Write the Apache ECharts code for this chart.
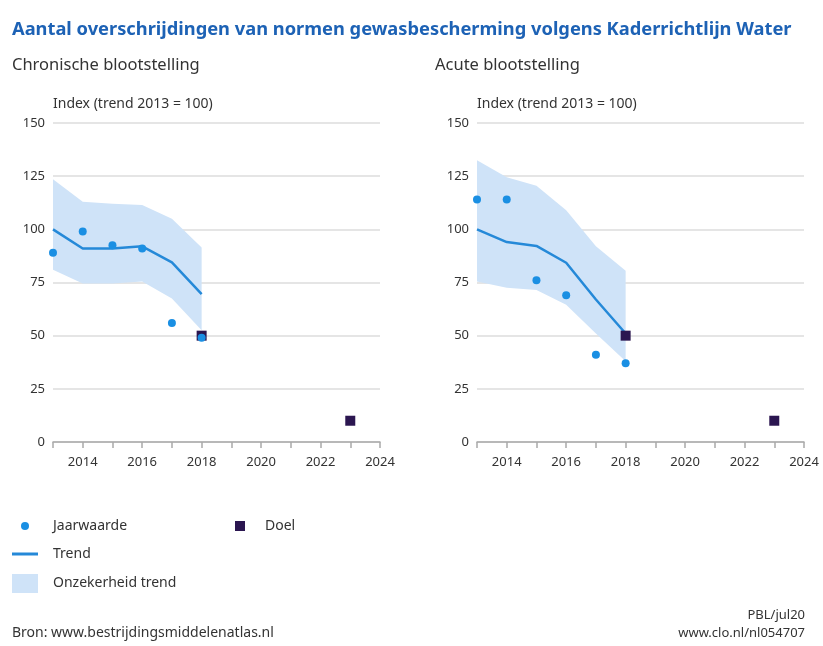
<!DOCTYPE html>
<html>
<head>
<meta charset="utf-8">
<script src="https://cdn.jsdelivr.net/npm/echarts@6/dist/echarts.min.js"></script>
<style>
  html, body { margin: 0; padding: 0; background: #fff; }
  #chart { width: 823px; height: 646px; }
</style>
</head>
<body>
<div id="chart"></div>
<script>
// jaren
var years = [2013, 2014, 2015, 2016, 2017, 2018];
var doelYears = [2018, 2023];

// chronische blootstelling
var chronTrend = [100, 91, 91, 92, 84.5, 69.5];
var chronUpper = [123.5, 113, 112, 111.5, 105, 91.5];
var chronLower = [81, 74.5, 74.5, 75.5, 67.5, 52.5];
var chronJaar = [89, 99, 92.5, 91, 56, 49];
var chronDoel = [50, 10];

// acute blootstelling
var acuteTrend = [100, 94, 92.2, 84.3, 67, 51];
var acuteUpper = [132.5, 124.5, 120.5, 109, 92, 80.5];
var acuteLower = [75.5, 72.5, 71.5, 64.5, 51, 38];
var acuteJaar = [114, 114, 76, 69, 41, 37];
var acuteDoel = [50, 10];

var blue = "#1a8fe3";
var lineBlue = "#2589d8";
var bandColor = "#cfe3f8";
var doelColor = "#2b1650";
var font = "Noto Sans";

function pairs(xs, ys) {
  return xs.map(function (x, i) { return [x, ys[i]]; });
}

// onzekerheidsband als polygoon tussen onder- en bovengrens
function bandSeries(idx, upper, lower) {
  return {
    name: "Onzekerheid trend",
    type: "custom",
    xAxisIndex: idx,
    yAxisIndex: idx,
    itemStyle: { color: bandColor },
    data: pairs(years, upper),
    z: 1,
    renderItem: function (params, api) {
      if (params.dataIndex !== 0) return;
      var pts = [];
      for (var i = 0; i < years.length; i++) pts.push(api.coord([years[i], upper[i]]));
      for (var j = years.length - 1; j >= 0; j--) pts.push(api.coord([years[j], lower[j]]));
      return {
        type: "polygon",
        shape: { points: pts },
        style: { fill: bandColor },
      };
    },
  };
}

function xAxis(idx) {
  return {
    gridIndex: idx,
    type: "value",
    min: 2013,
    max: 2024,
    interval: 1,
    axisLine: { lineStyle: { color: "#a9a9a9", width: 1.5 } },
    axisTick: { show: true, length: 6, lineStyle: { color: "#a9a9a9", width: 1.5 } },
    splitLine: { show: false },
    axisLabel: {
      margin: 14,
      fontFamily: font,
      fontSize: 13,
      color: "#333",
      formatter: function (v) { return v % 2 === 0 ? String(v) : ""; },
    },
  };
}

function yAxis(idx) {
  return {
    gridIndex: idx,
    type: "value",
    min: 0,
    max: 150,
    interval: 25,
    name: "Index (trend 2013 = 100)",
    nameLocation: "end",
    nameGap: 12,
    nameTextStyle: { fontFamily: font, fontSize: 14, color: "#333", align: "left" },
    axisLine: { show: false },
    axisTick: { show: false },
    splitLine: { lineStyle: { color: "#dcdcdc", width: 1.5 } },
    axisLabel: { margin: 8, fontFamily: font, fontSize: 13, color: "#333" },
  };
}

function chartSeries(idx, trend, upper, lower, jaar, doel) {
  return [
    bandSeries(idx, upper, lower),
    {
      name: "Trend",
      type: "line",
      xAxisIndex: idx,
      yAxisIndex: idx,
      data: pairs(years, trend),
      symbol: "none",
      lineStyle: { color: lineBlue, width: 2.5 },
      itemStyle: { color: lineBlue },
      z: 3,
    },
    {
      name: "Jaarwaarde",
      type: "scatter",
      xAxisIndex: idx,
      yAxisIndex: idx,
      data: pairs(years, jaar),
      symbol: "circle",
      symbolSize: 8,
      itemStyle: { color: blue, opacity: 1 },
      z: 5,
    },
    {
      name: "Doel",
      type: "scatter",
      xAxisIndex: idx,
      yAxisIndex: idx,
      data: pairs(doelYears, doel),
      symbol: "rect",
      symbolSize: 10,
      itemStyle: { color: doelColor, opacity: 1 },
      z: 4,
    },
  ];
}

var legendText = { fontFamily: font, fontSize: 14, color: "#333" };

var option = {
  animation: false,
  backgroundColor: "#fff",
  title: [
    {
      text: "Aantal overschrijdingen van normen gewasbescherming volgens Kaderrichtlijn Water",
      left: 7,
      top: 16,
      textStyle: { fontFamily: font, fontSize: 18.3, fontWeight: "bold", color: "#1d62b5" },
    },
    {
      text: "Chronische blootstelling",
      left: 7,
      top: 52,
      textStyle: { fontFamily: font, fontSize: 16.5, fontWeight: "normal", color: "#333" },
    },
    {
      text: "Acute blootstelling",
      left: 430,
      top: 52,
      textStyle: { fontFamily: font, fontSize: 16.5, fontWeight: "normal", color: "#333" },
    },
    {
      text: "Bron: www.bestrijdingsmiddelenatlas.nl",
      left: 7,
      top: 621,
      textStyle: { fontFamily: font, fontSize: 14, fontWeight: "normal", color: "#333" },
    },
    {
      text: "PBL/jul20",
      right: 13,
      top: 604,
      textStyle: { fontFamily: font, fontSize: 13, fontWeight: "normal", color: "#333" },
    },
    {
      text: "www.clo.nl/nl054707",
      right: 13,
      top: 622,
      textStyle: { fontFamily: font, fontSize: 13, fontWeight: "normal", color: "#333" },
    },
  ],
  legend: [
    {
      data: ["Jaarwaarde"],
      left: 21,
      top: 519,
      icon: "circle",
      itemWidth: 8,
      itemHeight: 8,
      padding: 0,
      textStyle: Object.assign({ padding: [0, 0, 0, 19] }, legendText),
      selectedMode: false,
    },
    {
      data: [{ name: "Trend", icon: "path://M0,0H26V3H0Z" }],
      left: 12,
      top: 547,
      itemWidth: 26,
      itemHeight: 14,
      padding: 0,
      textStyle: Object.assign({ padding: [0, 0, 0, 10] }, legendText),
      selectedMode: false,
    },
    {
      data: [{ name: "Onzekerheid trend", icon: "rect" }],
      left: 12,
      top: 574,
      itemWidth: 26,
      itemHeight: 19,
      padding: 0,
      textStyle: Object.assign({ padding: [0, 0, 0, 10] }, legendText),
      selectedMode: false,
    },
    {
      data: ["Doel"],
      left: 235,
      top: 519,
      icon: "rect",
      itemWidth: 10,
      itemHeight: 10,
      padding: 0,
      textStyle: Object.assign({ padding: [0, 0, 0, 15] }, legendText),
      selectedMode: false,
    },
  ],
  grid: [
    { left: 53, right: 443, top: 123, bottom: 204 },
    { left: 477, right: 19, top: 123, bottom: 204 },
  ],
  xAxis: [xAxis(0), xAxis(1)],
  yAxis: [yAxis(0), yAxis(1)],
  series: [].concat(
    chartSeries(0, chronTrend, chronUpper, chronLower, chronJaar, chronDoel),
    chartSeries(1, acuteTrend, acuteUpper, acuteLower, acuteJaar, acuteDoel)
  ),
};

var myChart = echarts.init(document.getElementById("chart"));
myChart.setOption(option);
</script>
</body>
</html>
